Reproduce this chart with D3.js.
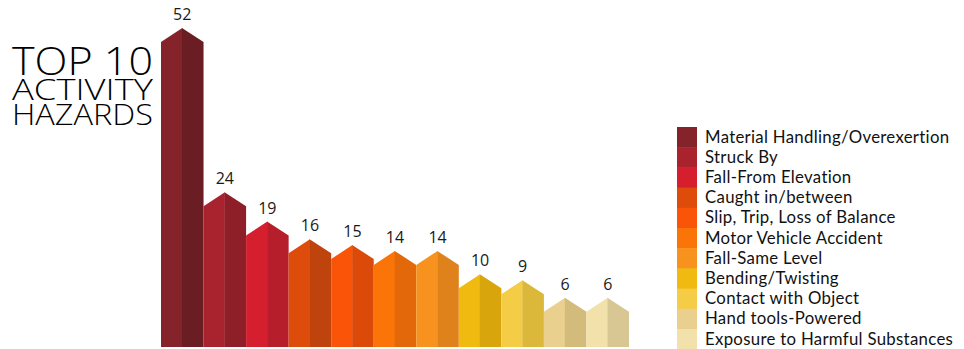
<!DOCTYPE html>
<html>
<head>
<meta charset="utf-8">
<script src="https://cdn.jsdelivr.net/npm/d3@7"></script>
<style>
  body { margin: 0; background: #fff; }
  svg { display: block; }
  .value { font-family: "Open Sans", sans-serif; font-size: 16px; fill: #1a1a1a; text-anchor: middle; }
  .legend text { font-family: Lato, sans-serif; font-size: 16.8px; letter-spacing: 0.3px; fill: #111; }
  .title { font-family: "Open Sans", sans-serif; font-weight: 300; fill: #000; }
</style>
</head>
<body>
<svg id="chart" width="964" height="349"></svg>
<script>
const categories = [
  "Material Handling/Overexertion", "Struck By", "Fall-From Elevation",
  "Caught in/between", "Slip, Trip, Loss of Balance", "Motor Vehicle Accident",
  "Fall-Same Level", "Bending/Twisting", "Contact with Object",
  "Hand tools-Powered", "Exposure to Harmful Substances"
];
const values = [52, 24, 19, 16, 15, 14, 14, 10, 9, 6, 6];
const titleLines = ["TOP 10", "ACTIVITY", "HAZARDS"];

// left face / right face colours
const lightColors = ["#842329", "#a9232f", "#d51f2f", "#de4c0c", "#fa5409", "#fa7408",
  "#f8921f", "#f1ba10", "#f5cc45", "#e9d08e", "#f2e1aa"];
const darkColors = ["#6a1d22", "#8e1f29", "#b71e2b", "#bf430c", "#dc4a0a", "#e2680a",
  "#e0821b", "#d8a60c", "#dcb83a", "#d3bb7c", "#d8c793"];

const svg = d3.select("#chart");
const baseline = 347;
const roof = 14;

const x = d3.scaleBand()
  .domain(categories)
  .range([161, 629])
  .padding(0);

const y = d3.scaleLinear()
  .domain([0, 52])
  .range([baseline, 42]);

const bars = svg.append("g").attr("class", "bars")
  .selectAll("g")
  .data(categories)
  .join("g");

bars.append("path")
  .attr("fill", (d, i) => lightColors[i])
  .attr("d", (d, i) => {
    const x0 = x(d), xm = x(d) + x.bandwidth() / 2, top = y(values[i]);
    return `M${x0},${baseline}L${x0},${top}L${xm},${top - roof}L${xm},${baseline}Z`;
  });

bars.append("path")
  .attr("fill", (d, i) => darkColors[i])
  .attr("d", (d, i) => {
    const x1 = x(d) + x.bandwidth(), xm = x(d) + x.bandwidth() / 2, top = y(values[i]);
    return `M${xm - 0.3},${baseline}L${xm - 0.3},${top - roof}L${x1},${top}L${x1},${baseline}Z`;
  });

bars.append("text")
  .attr("class", "value")
  .attr("x", d => x(d) + x.bandwidth() / 2)
  .attr("y", (d, i) => y(values[i]) - roof - 8)
  .text((d, i) => values[i]);

// title
const titleSizes = [38, 29, 29];
const titleY = [75, 100, 125];
svg.append("g").selectAll("text")
  .data(titleLines)
  .join("text")
  .attr("class", "title")
  .attr("x", 12)
  .attr("y", (d, i) => titleY[i])
  .attr("font-size", (d, i) => titleSizes[i])
  .attr("textLength", 141)
  .attr("lengthAdjust", "spacingAndGlyphs")
  .text(d => d);

// legend
const rowH = 20.2;
const legend = svg.append("g").attr("class", "legend")
  .attr("transform", "translate(677,127)");

legend.selectAll("rect")
  .data(categories)
  .join("rect")
  .attr("x", 0)
  .attr("y", (d, i) => i * rowH)
  .attr("width", 20)
  .attr("height", rowH + 0.5)
  .attr("fill", (d, i) => lightColors[i]);

legend.selectAll("text")
  .data(categories)
  .join("text")
  .attr("x", 28)
  .attr("y", (d, i) => i * rowH + 15.5)
  .text(d => d);
</script>
</body>
</html>
